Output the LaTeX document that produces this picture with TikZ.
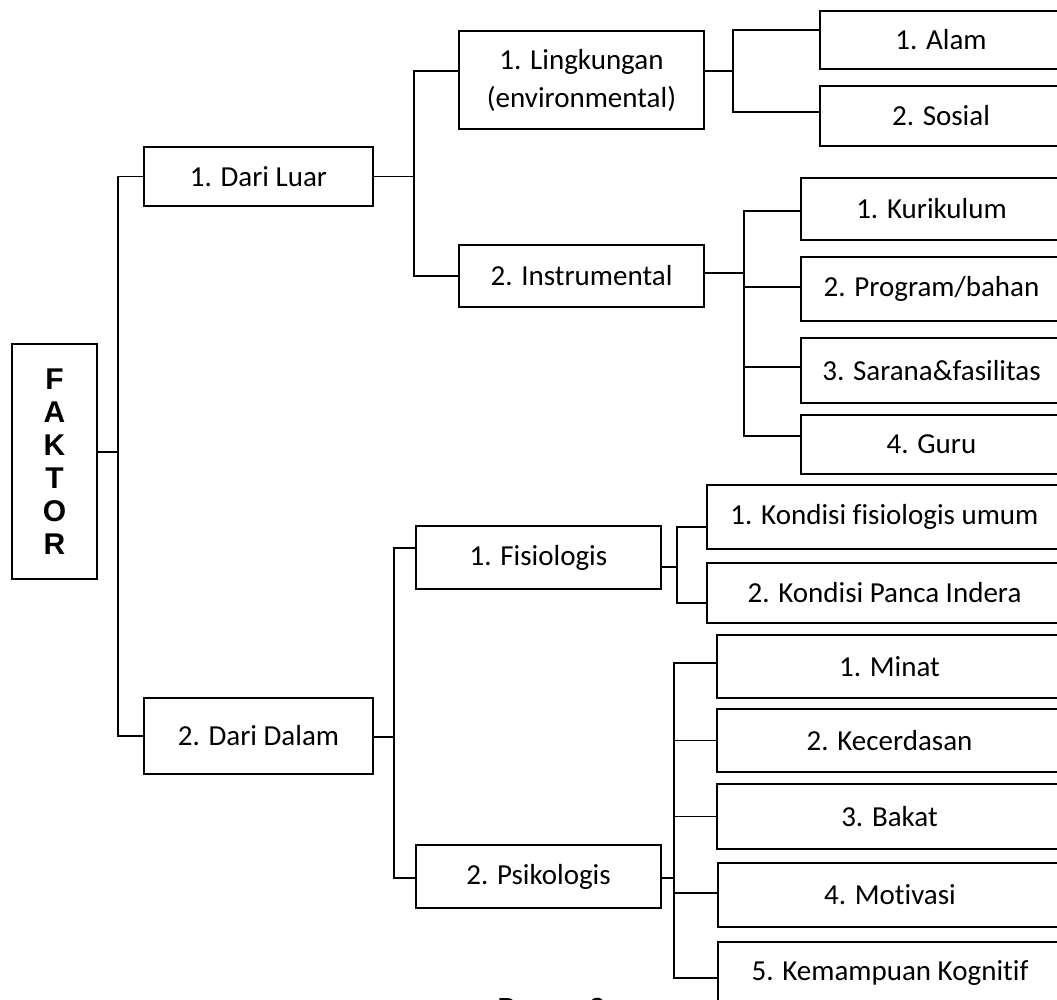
\documentclass[tikz,border=0pt]{standalone}
\usepackage{fontspec}
\setmainfont[Ligatures=NoCommon]{Carlito}
\newfontfamily\arialfont{Liberation Sans}

\begin{document}
\begin{tikzpicture}[x=1pt,y=-1pt,
    box/.style={draw,line width=1.9pt,inner sep=0pt,align=center,font=\fontsize{29}{38}\selectfont},
    link/.style={line width=1.9pt}]

    \useasboundingbox (0,0) rectangle (1057,1000);

    % root and first level
    \node (faktor) at (54.5,461.5) [box,minimum width=85pt,minimum height=235pt,font=\arialfont\bfseries\fontsize{30}{33}\selectfont] {F\\A\\K\\T\\O\\R};
    \node (luar) at (258.5,176.5) [box,minimum width=229pt,minimum height=59pt] {1. Dari Luar};
    \node (dalam) at (258.5,736) [box,minimum width=229pt,minimum height=76pt] {2. Dari Dalam};

    % second level
    \node (lingk) at (581.5,80) [box,minimum width=245pt,minimum height=98pt] {1. Lingkungan\\(environmental)};
    \node (instr) at (581.5,276) [box,minimum width=245pt,minimum height=62pt] {2. Instrumental};
    \node (fisio) at (538.5,557.5) [box,minimum width=245pt,minimum height=63pt] {1. Fisiologis};
    \node (psiko) at (538.5,876.5) [box,minimum width=245pt,minimum height=63pt] {2. Psikologis};

    % leaves, cut by the right edge
    \node (alam) at (941,40) [box,minimum width=242pt,minimum height=58pt] {1. Alam};
    \node (sosial) at (941,116) [box,minimum width=242pt,minimum height=60pt] {2. Sosial};
    \node (kurik) at (931.5,209) [box,minimum width=261pt,minimum height=62pt] {1. Kurikulum};
    \node (prog) at (931.5,289) [box,minimum width=261pt,minimum height=64pt] {2. Program/bahan};
    \node (sarana) at (931.5,370.5) [box,minimum width=261pt,minimum height=65pt] {3. Sarana\&fasilitas};
    \node (guru) at (931.5,444.5) [box,minimum width=261pt,minimum height=59pt] {4. Guru};
    \node (kfu) at (884.5,517) [box,minimum width=355pt,minimum height=64pt] {1. Kondisi fisiologis umum};
    \node (kpi) at (884.5,593) [box,minimum width=355pt,minimum height=60pt] {2. Kondisi Panca Indera};
    \node (minat) at (889.5,666.5) [box,minimum width=345pt,minimum height=63pt] {1. Minat};
    \node (kecer) at (889.5,740.5) [box,minimum width=345pt,minimum height=63pt] {2. Kecerdasan};
    \node (bakat) at (889.5,816.5) [box,minimum width=345pt,minimum height=65pt] {3. Bakat};
    \node (motiv) at (890,895) [box,minimum width=344pt,minimum height=64pt] {4. Motivasi};
    \node (kemamp) at (890,973.5) [box,minimum width=344pt,minimum height=63pt] {5. Kemampuan Kognitif};

    \node (bagan) at (497,1018) [anchor=base west,inner sep=0pt,font=\arialfont\fontsize{29}{35}\selectfont] {Bagan 2};

    % connectors
    \draw[link] ([yshift=9.5pt]faktor.east) -- ++(20,0) coordinate (trunk);
    \draw[link] (luar.west) -| (trunk) |- (dalam.west);

    \draw[link] (luar.east) -- ++(40,0) |- ([yshift=9pt]lingk.west);
    \draw[link] (luar.east) -- ++(40,0) |- (instr.west);

    \foreach \c/\s in {alam/10,sosial/4}
        \draw[link] ([yshift=9pt]lingk.east) -- ++(28,0) |- ([yshift=\s pt]\c.west);
    \foreach \c/\s in {kurik/-2,prog/2,sarana/3.5,guru/8.5}
        \draw[link] ([yshift=3pt]instr.east) -- ++(39,0) |- ([yshift=\s pt]\c.west);

    \draw[link] ([yshift=-1pt]dalam.east) -- ++(20,0) |- ([yshift=9.5pt]fisio.west);
    \draw[link] ([yshift=-1pt]dalam.east) -- ++(20,0) |- ([yshift=-1.5pt]psiko.west);

    \foreach \c in {kfu,kpi}
        \draw[link] ([yshift=-9.5pt]fisio.east) -- ++(15,0) |- ([yshift=-10pt]\c.west);
    \foreach \c/\s in {minat/3.5,kecer/0,bakat/0,motiv/2,kemamp/-4.5}
        \draw[link] ([yshift=-1.5pt]psiko.east) -- ++(12,0) |- ([yshift=\s pt]\c.west);
\end{tikzpicture}
\end{document}
